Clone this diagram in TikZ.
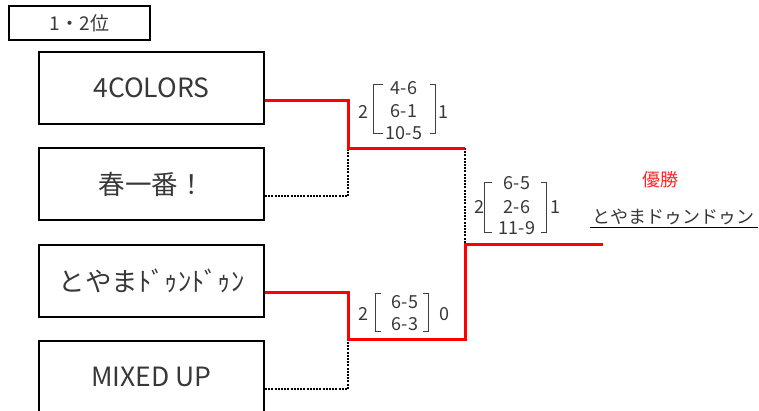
\documentclass[tikz,border=0pt]{standalone}
\usepackage{fontspec}
\setmainfont{Noto Sans CJK JP}
\begin{document}
\begin{tikzpicture}[x=1pt,y=-1pt,
  txt/.style={text=black!78, inner sep=0pt},
  team/.style={draw=black, line width=2pt, minimum width=225pt, minimum height=72pt, font=\fontsize{26.5}{28}\selectfont, txt},
  win/.style={draw=red, line width=3pt, line join=miter},
  lose/.style={draw=black, line width=1.8pt, dash pattern=on 2pt off 1.2pt},
  sc/.style={txt, font=\fontsize{18}{20}\selectfont},
  brk/.style={draw=black!75, line width=1pt}]
\useasboundingbox (0,0) rectangle (759,410);
\node[draw=black, line width=1.6pt, minimum width=141pt, minimum height=34pt, txt, font=\fontsize{19}{21}\selectfont] (lbl) at (79.5,23) {1・2位};
\node[team] (b1) at (151.5,88) {4COLORS};
\node[team] (b2) at (151.5,184) {春一番！};
\node[team] (b3) at (151.5,280.5) {とやまﾄﾞｩﾝﾄﾞｩﾝ};
\node[team] (b4) at (151.5,377) {MIXED UP};
\coordinate (m1) at (348,148);
\coordinate (m2) at (348,339);
\coordinate (r1) at (465,148);
\coordinate (r2) at (465,339);
\coordinate (fin) at (465,244);
\coordinate (endc) at (603,244);
\draw[lose] ([yshift=-12pt]b2.east) -| (m1);
\draw[lose] ([yshift=-12pt]b4.east) -| (m2);
\draw[lose] (r1) -- (fin);
\draw[win] ([yshift=-12pt]b1.east) -| (m1) -- (r1);
\draw[win] ([yshift=-12pt]b3.east) -| (m2) -- (r2) -- (fin) -- (endc);
% match 1
\node[sc] (a1) at (404,88) {4-6};
\node[sc] (a2) at (404,111) {6-1};
\node[sc] (a3) at (404,133) {10-5};
\node[sc] (al) at (363,112) {2};
\node[sc] (ar) at (443,112) {1};
\draw[brk] (383,84) -- (373,84) -- (373,133) -- (383,133);
\draw[brk] (430,84) -- (435,84) -- (435,133) -- (430,133);
% match 2
\node[sc] (c1) at (405,302) {6-5};
\node[sc] (c2) at (405,324) {6-3};
\node[sc] (cl) at (363,314) {2};
\node[sc] (cr) at (444,314) {0};
\draw[brk] (381,293) -- (375,293) -- (375,331) -- (381,331);
\draw[brk] (423,293) -- (428,293) -- (428,331) -- (423,331);
% final
\node[sc] (f1) at (517,183) {6-5};
\node[sc] (f2) at (517,207) {2-6};
\node[sc] (f3) at (517,228) {11-9};
\node[sc] (fl) at (479,207) {2};
\node[sc] (fr) at (555,207) {1};
\draw[brk] (492,182) -- (484,182) -- (484,232) -- (492,232);
\draw[brk] (541,182) -- (546,182) -- (546,232) -- (541,232);
% champion
\node[txt, text=red!85, font=\fontsize{18}{20}\selectfont] (win) at (660,180) {優勝};
\node[txt, font=\fontsize{18}{20}\selectfont] (champ) at (673,217) {とやまドゥンドゥン};
\coordinate (u1) at (590,227);
\coordinate (u2) at (758,227);
\draw[black, line width=1pt] (u1) -- (u2);
\end{tikzpicture}
\end{document}
